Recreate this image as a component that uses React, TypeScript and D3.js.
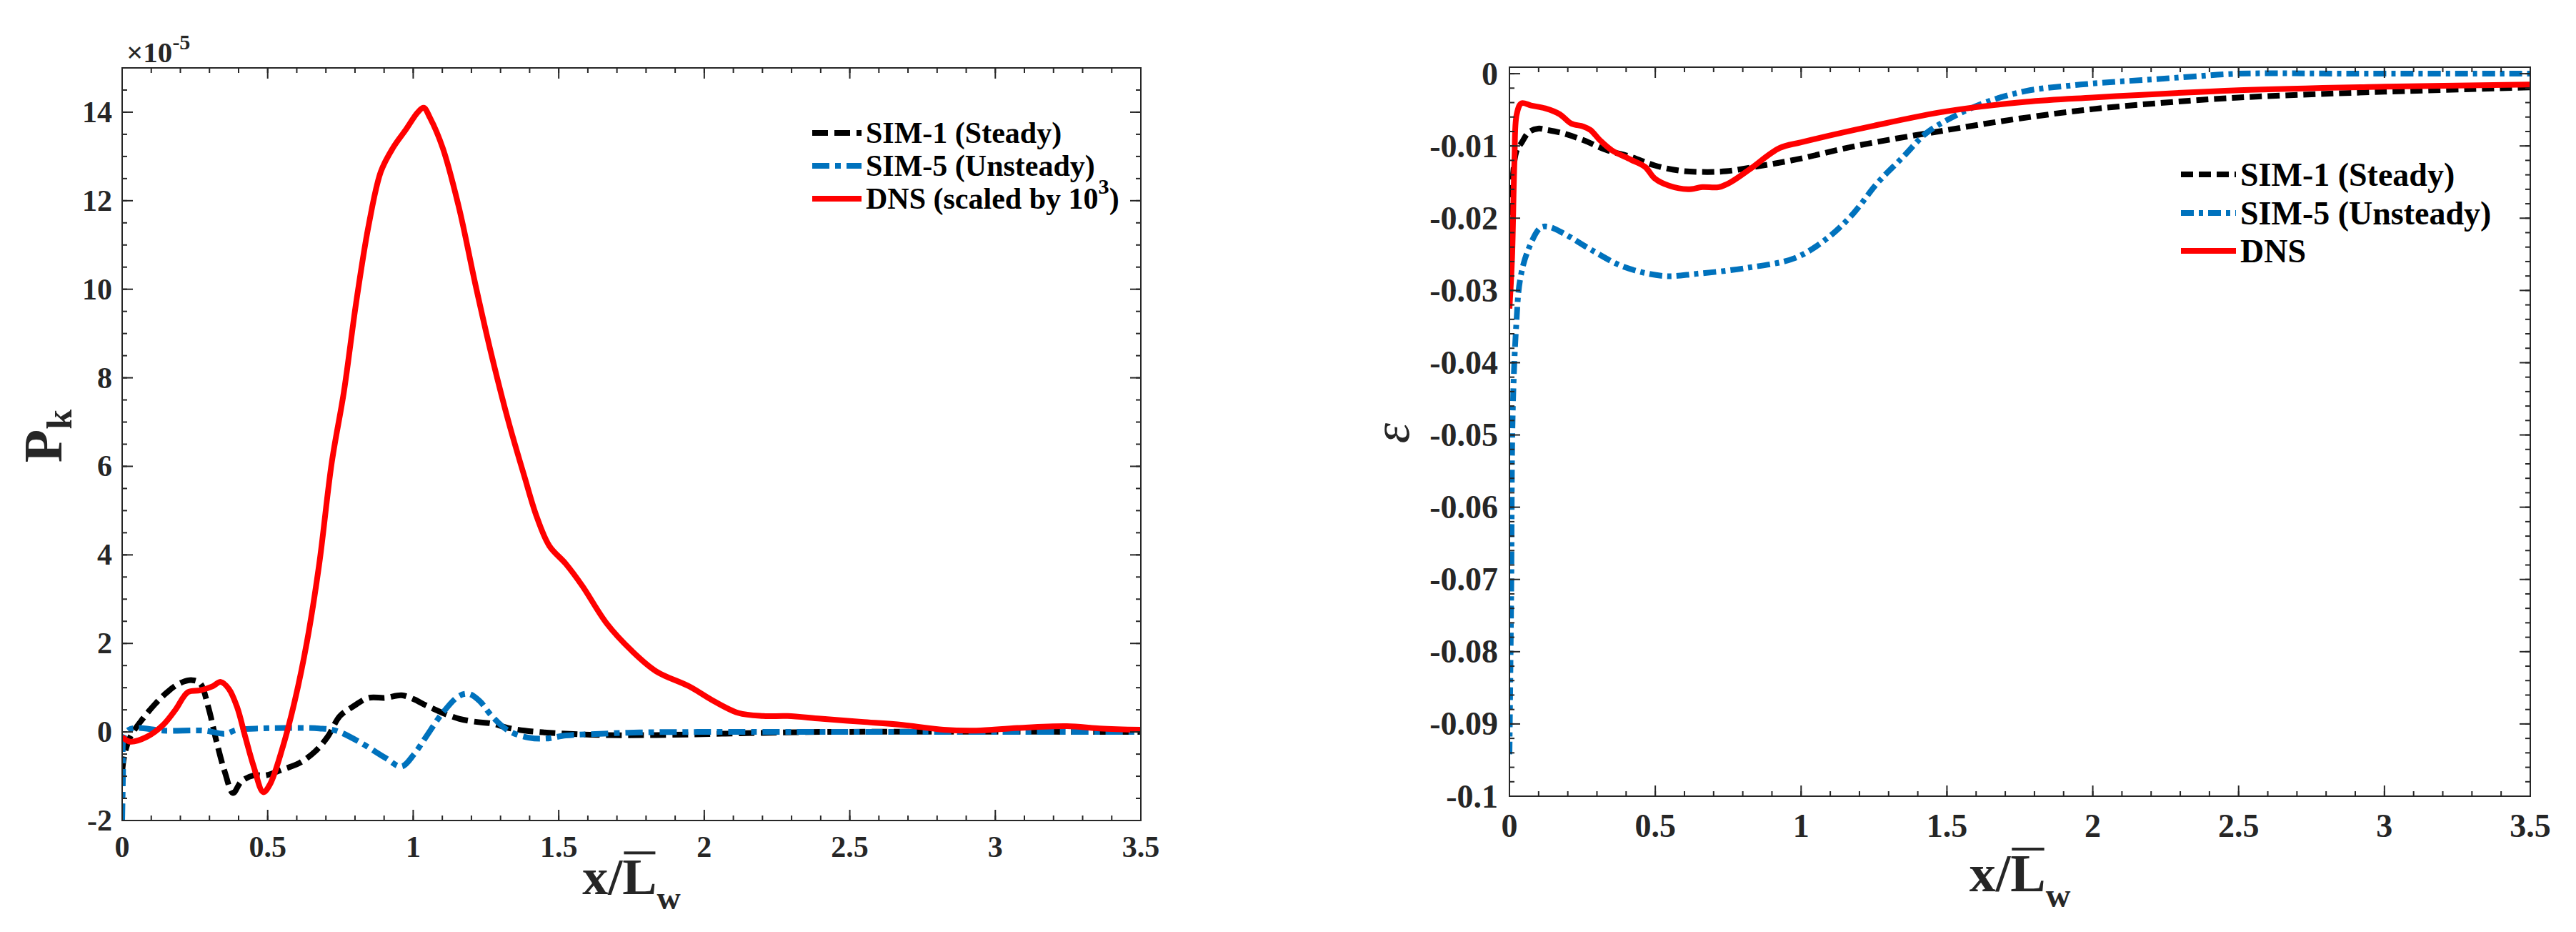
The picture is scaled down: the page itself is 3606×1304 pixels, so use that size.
import * as d3 from "d3";
import { useEffect } from "react";

type Pt = [number, number];

// P_k (x 1e-5) against x / L_w
const pkSim1: Pt[] = [
  [0, -0.91], [0.008, -0.51], [0.028, -0.11], [0.071, 0.3], [0.113, 0.63],
  [0.155, 0.9], [0.198, 1.1], [0.24, 1.17], [0.268, 1.1], [0.296, 0.56],
  [0.325, -0.24], [0.353, -0.91], [0.381, -1.38], [0.409, -1.12], [0.452, -0.98],
  [0.494, -0.98], [0.55, -0.85], [0.607, -0.71], [0.663, -0.44], [0.706, -0.11],
  [0.748, 0.36], [0.79, 0.56], [0.847, 0.77], [0.903, 0.77], [0.96, 0.83],
  [1.002, 0.74], [1.044, 0.6], [1.101, 0.43], [1.157, 0.3], [1.214, 0.23],
  [1.27, 0.19], [1.327, 0.09], [1.383, 0.03], [1.496, -0.03], [1.665, -0.07],
  [1.835, -0.07], [2.06, -0.04], [2.4, 0], [3.5, 0],
];
const pkSim5: Pt[] = [
  [0, -2], [0.003, -0.91], [0.006, -0.11], [0.023, 0.05], [0.056, 0.09],
  [0.141, 0.03], [0.282, 0.03], [0.353, -0.04], [0.395, 0.05], [0.48, 0.08],
  [0.564, 0.09], [0.677, 0.08], [0.734, 0.03], [0.819, -0.24], [0.903, -0.58],
  [0.96, -0.78], [1.002, -0.51], [1.044, -0.11], [1.101, 0.43], [1.157, 0.81],
  [1.191, 0.86], [1.228, 0.7], [1.27, 0.36], [1.327, 0.03], [1.397, -0.13],
  [1.454, -0.15], [1.524, -0.08], [1.609, -0.05], [1.778, -0.01], [1.976, 0],
  [3.5, 0],
];
const pkDns: Pt[] = [
  [0, -0.11], [0.028, -0.22], [0.085, -0.11], [0.141, 0.16], [0.183, 0.5],
  [0.226, 0.9], [0.268, 0.94], [0.31, 1.03], [0.339, 1.13], [0.367, 0.97],
  [0.395, 0.56], [0.423, -0.11], [0.452, -0.78], [0.485, -1.36], [0.508, -1.18],
  [0.55, -0.38], [0.593, 0.7], [0.635, 2.04], [0.677, 3.79], [0.72, 6.08],
  [0.762, 7.69], [0.804, 9.7], [0.847, 11.45], [0.889, 12.66], [0.931, 13.2],
  [0.974, 13.6], [1.016, 14.0], [1.036, 14.1], [1.058, 13.87], [1.101, 13.2],
  [1.157, 11.85], [1.214, 10.1], [1.27, 8.49], [1.327, 7.02], [1.383, 5.75],
  [1.425, 4.85], [1.468, 4.2], [1.524, 3.8], [1.581, 3.3], [1.665, 2.45],
  [1.75, 1.84], [1.835, 1.37], [1.948, 1.03], [2.032, 0.7], [2.117, 0.43],
  [2.202, 0.36], [2.286, 0.36], [2.399, 0.3], [2.54, 0.23], [2.681, 0.16],
  [2.822, 0.05], [2.935, 0.03], [3.076, 0.09], [3.246, 0.13], [3.359, 0.08],
  [3.5, 0.05],
];

// epsilon against x / L_w
const epsSim1: Pt[] = [
  [0, -0.027], [0.004, -0.019], [0.009, -0.0155], [0.025, -0.0106], [0.041, -0.0096],
  [0.066, -0.0081], [0.098, -0.0076], [0.131, -0.0078], [0.188, -0.0083],
  [0.253, -0.0092], [0.335, -0.0106], [0.416, -0.0115], [0.498, -0.0127],
  [0.58, -0.0134], [0.661, -0.0136], [0.743, -0.0135], [0.825, -0.013],
  [0.98, -0.0119], [1.2, -0.0099], [1.5, -0.0078], [1.75, -0.0062], [2.0, -0.0049],
  [2.25, -0.004], [2.5, -0.0033], [3.0, -0.0025], [3.5, -0.0019],
];
const epsSim5: Pt[] = [
  [0, -0.0942], [0.006, -0.072], [0.011, -0.0473], [0.023, -0.035], [0.037, -0.0284],
  [0.065, -0.0243], [0.107, -0.0213], [0.135, -0.0212], [0.19, -0.0222],
  [0.277, -0.0243], [0.39, -0.0267], [0.53, -0.028], [0.64, -0.0277], [0.81, -0.0269],
  [0.98, -0.0255], [1.095, -0.0226], [1.18, -0.0193], [1.26, -0.0152], [1.35, -0.0115],
  [1.43, -0.0082], [1.52, -0.006], [1.63, -0.004], [1.77, -0.0024], [1.91, -0.0017],
  [2.05, -0.0012], [2.2, -0.0008], [2.34, -0.0004], [2.5, 0], [2.9, 0], [3.5, 0],
];
const epsDns: Pt[] = [
  [0, -0.0325], [0.009, -0.0254], [0.017, -0.0122], [0.025, -0.0056], [0.041, -0.0041],
  [0.074, -0.0044], [0.123, -0.0048], [0.172, -0.0056], [0.212, -0.0069],
  [0.253, -0.0073], [0.278, -0.0078], [0.31, -0.0092], [0.351, -0.0106],
  [0.416, -0.0119], [0.465, -0.0129], [0.498, -0.0145], [0.547, -0.0155],
  [0.612, -0.016], [0.661, -0.0157], [0.718, -0.0157], [0.759, -0.015],
  [0.825, -0.0132], [0.926, -0.0103], [1.0, -0.0095], [1.25, -0.0072], [1.5, -0.0052],
  [1.77, -0.0039], [2.0, -0.0033], [2.5, -0.0023], [3.0, -0.0018], [3.5, -0.0015],
];

const xTicks = [0, 0.5, 1, 1.5, 2, 2.5, 3, 3.5];
const pkTicks = [-2, 0, 2, 4, 6, 8, 10, 12, 14];
const epsTicks = [0, -0.01, -0.02, -0.03, -0.04, -0.05, -0.06, -0.07, -0.08, -0.09, -0.1];
const seriesNames = ["SIM-1 (Steady)", "SIM-5 (Unsteady)", "DNS"];
const seriesColors = ["#000000", "#0072BD", "#FF0000"];

const FONT = '"Liberation Serif", "Times New Roman", Times, serif';
const AX = "#262626";
const LW = 8;

interface Series {
  data: Pt[];
  color: string;
  dash?: string;
}

interface PanelProps {
  id: string;
  box: { left: number; right: number; top: number; bottom: number };
  yDomain: [number, number];
  yTicks: number[];
  yMinorStep: number;
  fs: number;
  xLabelBase: number;
  yLabelGap: number;
  series: Series[];
  legend: { x1: number; x2: number; tx: number; rows: number[] };
  dnsSuffix?: boolean;
}

function Panel({
  id, box, yDomain, yTicks, yMinorStep, fs, xLabelBase, yLabelGap, series, legend, dnsSuffix,
}: PanelProps) {
  const { left, right, top, bottom } = box;
  const x = d3.scaleLinear([0, 3.5], [left, right]);
  const y = d3.scaleLinear(yDomain, [bottom, top]);
  const line = d3
    .line<Pt>()
    .x((d) => x(d[0]))
    .y((d) => y(d[1]))
    .curve(d3.curveCatmullRom.alpha(0.5));

  const xMinor = d3.range(0, 3.5001, 0.1);
  const yMinor = d3.range(yDomain[0], yDomain[1] + 1e-9, yMinorStep);

  return (
    <g>
      <defs>
        <clipPath id={id}>
          <rect x={left} y={top} width={right - left} height={bottom - top} />
        </clipPath>
      </defs>
      <g clipPath={`url(#${id})`}>
        {series.map((s, i) => (
          <path
            key={i}
            d={line(s.data) ?? ""}
            fill="none"
            stroke={s.color}
            strokeWidth={LW}
            strokeDasharray={s.dash}
            strokeLinejoin="round"
          />
        ))}
      </g>
      <g stroke={AX} strokeWidth={2}>
        {xMinor.map((v, i) => (
          <g key={"xm" + i}>
            <line x1={x(v)} x2={x(v)} y1={bottom} y2={bottom - 7} />
            <line x1={x(v)} x2={x(v)} y1={top} y2={top + 7} />
          </g>
        ))}
        {xTicks.map((v, i) => (
          <g key={"xM" + i}>
            <line x1={x(v)} x2={x(v)} y1={bottom} y2={bottom - 15} />
            <line x1={x(v)} x2={x(v)} y1={top} y2={top + 15} />
          </g>
        ))}
        {yMinor.map((v, i) => (
          <g key={"ym" + i}>
            <line x1={left} x2={left + 7} y1={y(v)} y2={y(v)} />
            <line x1={right} x2={right - 7} y1={y(v)} y2={y(v)} />
          </g>
        ))}
        {yTicks.map((v, i) => (
          <g key={"yM" + i}>
            <line x1={left} x2={left + 15} y1={y(v)} y2={y(v)} />
            <line x1={right} x2={right - 15} y1={y(v)} y2={y(v)} />
          </g>
        ))}
        <rect x={left} y={top} width={right - left} height={bottom - top} fill="none" />
      </g>
      <g fontFamily={FONT} fontWeight="bold" fontSize={fs} fill={AX}>
        {xTicks.map((v, i) => (
          <text key={i} x={x(v)} y={xLabelBase} textAnchor="middle">
            {String(v)}
          </text>
        ))}
        {yTicks.map((v, i) => (
          <text key={i} x={left - yLabelGap} y={y(v)} textAnchor="end" dominantBaseline="central">
            {String(v)}
          </text>
        ))}
      </g>
      <g fontFamily={FONT} fontWeight="bold" fontSize={fs} fill="#000">
        {series.map((s, i) => (
          <g key={i}>
            <line
              x1={legend.x1}
              x2={legend.x2}
              y1={legend.rows[i]}
              y2={legend.rows[i]}
              stroke={s.color}
              strokeWidth={LW}
              strokeDasharray={s.dash}
            />
            <text x={legend.tx} y={legend.rows[i]} dominantBaseline="central">
              {seriesNames[i]}
              {i === 2 && dnsSuffix ? (
                <>
                  {" (scaled by 10"}
                  <tspan fontSize={fs * 0.72} dy={-fs * 0.4}>3</tspan>
                  <tspan dy={fs * 0.4}>)</tspan>
                </>
              ) : null}
            </text>
          </g>
        ))}
      </g>
    </g>
  );
}

function XLabel({ cx, base, f, sub }: { cx: number; base: number; f: number; sub: number }) {
  // Times bold advance widths
  const wX = 0.5 * f;
  const wSlash = 0.278 * f;
  const wL = 0.667 * f;
  const wW = 0.722 * sub;
  const start = cx - (wX + wSlash + wL + wW) / 2;
  const lStart = start + wX + wSlash;
  return (
    <g fontFamily={FONT} fontWeight="bold" fill={AX}>
      <text x={start} y={base} fontSize={f}>x/L</text>
      <text x={lStart + wL} y={base + sub * 0.45} fontSize={sub}>w</text>
      <rect x={lStart + 2} y={base - 0.662 * f - 12} width={wL - 4} height={4} fill={AX} />
    </g>
  );
}

export default function App() {
  useEffect(() => {
    document.body.style.margin = "0";
  }, []);

  const leftBox = { left: 171, right: 1597, top: 95, bottom: 1148 };
  const rightBox = { left: 2113, right: 3542, top: 94, bottom: 1114 };

  return (
    <svg width={3606} height={1304} style={{ display: "block", background: "#fff" }}>
      <rect width={3606} height={1304} fill="#fff" />
      <Panel
        id="clipL"
        box={leftBox}
        yDomain={[-2, 15]}
        yTicks={pkTicks}
        yMinorStep={0.5}
        fs={42}
        xLabelBase={1199}
        yLabelGap={14}
        series={[
          { data: pkSim1, color: seriesColors[0], dash: "22 9" },
          { data: pkSim5, color: seriesColors[1], dash: "24 8 8 8" },
          { data: pkDns, color: seriesColors[2] },
        ]}
        legend={{ x1: 1137, x2: 1206, tx: 1212, rows: [186, 232, 278] }}
        dnsSuffix
      />
      <Panel
        id="clipR"
        box={rightBox}
        yDomain={[-0.1, 0.0009]}
        yTicks={epsTicks}
        yMinorStep={0.002}
        fs={46}
        xLabelBase={1171}
        yLabelGap={16}
        series={[
          { data: epsSim1, color: seriesColors[0], dash: "17 8" },
          { data: epsSim5, color: seriesColors[1], dash: "18 7 6 7" },
          { data: epsDns, color: seriesColors[2] },
        ]}
        legend={{ x1: 3053, x2: 3130, tx: 3136, rows: [244, 298, 351] }}
      />

      {/* exponent above left axis */}
      <text x={177} y={87} fontFamily={FONT} fontWeight="bold" fontSize={41} fill={AX}>
        {"\u00d710"}
        <tspan fontSize={30} dy={-18}>-5</tspan>
      </text>

      {/* y labels */}
      <text
        transform="translate(86,610) rotate(-90)"
        textAnchor="middle"
        fontFamily={FONT}
        fontWeight="bold"
        fontSize={76}
        fill={AX}
      >
        P<tspan fontSize={50} dy={14}>k</tspan>
      </text>
      <text
        transform="translate(1972,606) rotate(-90)"
        textAnchor="middle"
        fontFamily={FONT}
        fontStyle="italic"
        fontSize={72}
        fill={AX}
      >
        ε
      </text>

      <XLabel cx={(leftBox.left + leftBox.right) / 2} base={1251} f={72} sub={46} />
      <XLabel cx={(rightBox.left + rightBox.right) / 2} base={1247} f={74} sub={48} />
    </svg>
  );
}
